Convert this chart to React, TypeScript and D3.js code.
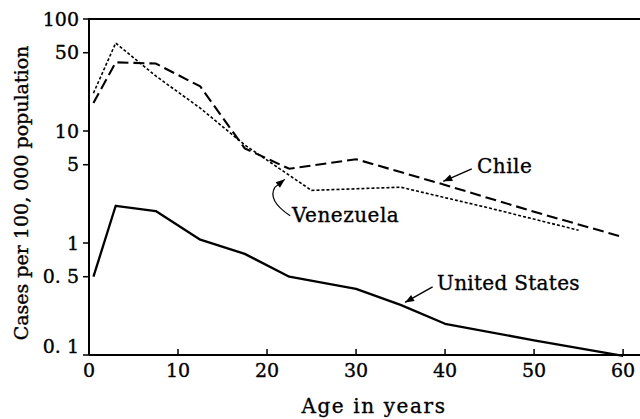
import React from 'react';
import * as d3 from 'd3';

// Age group midpoints (years) and rates per 100,000
const usAges = [0.5, 3, 7.5, 12.5, 17.5, 22.5, 30, 35, 40, 50, 60];
const usCases = [0.5, 2.15, 1.93, 1.07, 0.8, 0.5, 0.39, 0.28, 0.19, 0.135, 0.098];

const chileAges = [0.5, 3, 7.5, 12.5, 17.5, 22.5, 30, 40, 50, 60];
const chileCases = [17.8, 41, 40, 25, 7.0, 4.6, 5.6, 3.3, 1.9, 1.13];

const venezuelaAges = [0.5, 3, 7.5, 12.5, 17.5, 25, 35, 45, 55];
const venezuelaCases = [21.8, 61, 31, 16, 7.5, 2.95, 3.15, 2.05, 1.3];

const xTicks = [0, 10, 20, 30, 40, 50, 60];
const yTicks = [100, 50, 10, 5, 1, 0.5, 0.1];
const yTickLabels = ['100', '50', '10', '5', '1', '0. 5', '0. 1'];

const W = 640;
const H = 419;
const margin = { top: 19, right: 0, bottom: 64, left: 89 };
const font = '"DejaVu Serif", serif';

const x = d3.scaleLinear().domain([0, 61.9]).range([margin.left, W - margin.right]);
const y = d3.scaleLog().domain([0.1, 100]).range([H - margin.bottom, margin.top]);

const line = d3.line<[number, number]>()
  .x(d => x(d[0]))
  .y(d => y(d[1]));

const zip = (a: number[], b: number[]) => a.map((v, i) => [v, b[i]] as [number, number]);

// small filled arrowhead at (tx,ty) pointing away from (fx,fy)
const arrowHead = (fx: number, fy: number, tx: number, ty: number, len = 9, half = 3.5) => {
  const a = Math.atan2(ty - fy, tx - fx);
  const bx = tx - len * Math.cos(a), by = ty - len * Math.sin(a);
  const px = -Math.sin(a) * half, py = Math.cos(a) * half;
  return `M${tx},${ty}L${bx + px},${by + py}L${bx - px},${by - py}Z`;
};

// text is a little heavier in the scan
const ink = { fill: '#000', stroke: '#000', strokeWidth: 0.35 };

export default function App() {
  const x0 = x.range()[0], x1 = x.range()[1];
  const y0 = y.range()[0], y1 = y.range()[1];

  // annotation anchors in data space
  const chileFrom: [number, number] = [x(43), y(4.6)];
  const chileTo: [number, number] = [x(39.8), y(3.55)];
  const usFrom: [number, number] = [x(38.6), y(0.405)];
  const usTo: [number, number] = [x(35.5), y(0.295)];
  const vzStart: [number, number] = [x(22.6), y(1.75)];
  const vzTip: [number, number] = [x(22), y(3.7)];

  return (
    <svg width={W} height={H} style={{ position: 'absolute', left: 0, top: 0, background: '#fff' }}
      fontFamily={font}>
      {/* frame */}
      <path d={`M${x0},${y0}V${y1}H${x1}`} fill="none" stroke="#000" strokeWidth={2} />
      <line x1={x0} x2={x1} y1={y0} y2={y0} stroke="#000" strokeWidth={2.2} />

      {/* y ticks */}
      {yTicks.map((t, i) => (
        <g key={t}>
          <line x1={x0 - 6} x2={x0} y1={y(t)} y2={y(t)} stroke="#000" strokeWidth={1.5} />
          <text x={x0 - 10} y={y(t) + (t === 0.1 ? -9 : 0)} dy="0.35em" textAnchor="end" fontSize={19} {...ink}>
            {yTickLabels[i]}
          </text>
        </g>
      ))}

      {/* x ticks */}
      {xTicks.map(t => (
        <g key={t}>
          <line x1={x(t)} x2={x(t)} y1={y0} y2={y0 - 6} stroke="#000" strokeWidth={1.5} />
          <text x={x(t)} y={y0 + 22} textAnchor="middle" fontSize={19} {...ink}>{t}</text>
        </g>
      ))}

      {/* axis titles */}
      <text x={374} y={413} textAnchor="middle" fontSize={20} letterSpacing={1.6} {...ink}>Age in years</text>
      <text transform={`translate(21,${(y0 + y1) / 2 + 6}) rotate(-90)`} dy="0.35em"
        textAnchor="middle" fontSize={19} {...ink}>Cases per 100, 000 population</text>

      {/* series */}
      <path d={line(zip(usAges, usCases)) || ''} fill="none" stroke="#000" strokeWidth={2.3} strokeLinejoin="round" />
      <path d={line(zip(chileAges, chileCases)) || ''} fill="none" stroke="#000" strokeWidth={2.1}
        strokeDasharray="11,5" />
      <path d={line(zip(venezuelaAges, venezuelaCases)) || ''} fill="none" stroke="#000" strokeWidth={1.6}
        strokeDasharray="3,2" />

      {/* labels with arrows */}
      <text x={477} y={173} fontSize={20} letterSpacing={0.5} {...ink}>Chile</text>
      <line x1={chileFrom[0]} y1={chileFrom[1]} x2={chileTo[0]} y2={chileTo[1]} stroke="#000" strokeWidth={1.4} />
      <path d={arrowHead(chileFrom[0], chileFrom[1], chileTo[0], chileTo[1])} fill="#000" />

      <text x={437} y={290} fontSize={20} letterSpacing={0.3} {...ink}>United States</text>
      <line x1={usFrom[0]} y1={usFrom[1]} x2={usTo[0]} y2={usTo[1]} stroke="#000" strokeWidth={1.4} />
      <path d={arrowHead(usFrom[0], usFrom[1], usTo[0], usTo[1])} fill="#000" />

      <text x={292} y={222} fontSize={20} letterSpacing={0.5} {...ink}>Venezuela</text>
      <path d={`M${vzStart[0]},${vzStart[1]}C${vzStart[0] - 12},${vzStart[1] - 8} ${vzTip[0] - 16},${vzTip[1] + 18} ${vzTip[0] - 10},${vzTip[1] + 8}L${vzTip[0]},${vzTip[1]}`}
        fill="none" stroke="#000" strokeWidth={1.2} />
      <path d={arrowHead(vzTip[0] - 10, vzTip[1] + 8, vzTip[0], vzTip[1])} fill="#000" />
    </svg>
  );
}
